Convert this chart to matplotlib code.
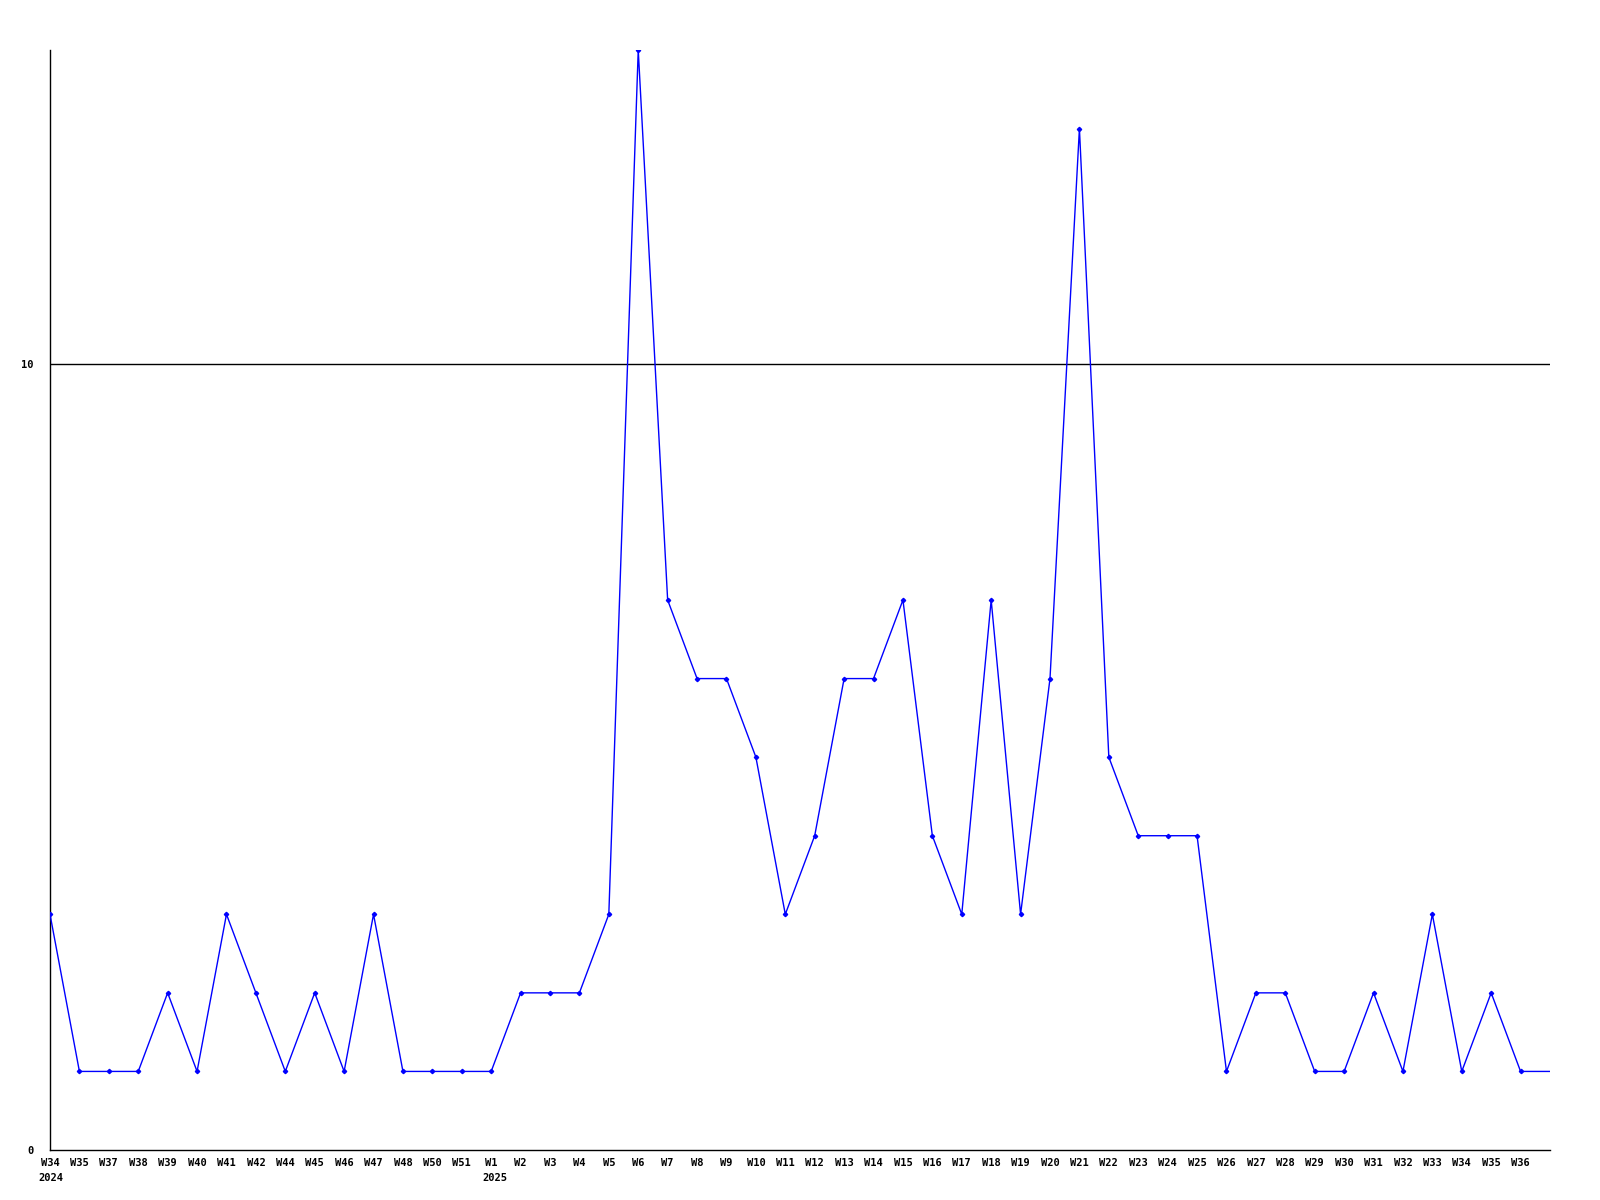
import matplotlib
matplotlib.use("Agg")
import matplotlib.pyplot as plt
from matplotlib.transforms import blended_transform_factory

weeks = ["W34", "W35", "W37", "W38", "W39", "W40", "W41", "W42", "W44", "W45",
         "W46", "W47", "W48", "W50", "W51", "W1", "W2", "W3", "W4", "W5",
         "W6", "W7", "W8", "W9", "W10", "W11", "W12", "W13", "W14", "W15",
         "W16", "W17", "W18", "W19", "W20", "W21", "W22", "W23", "W24", "W25",
         "W26", "W27", "W28", "W29", "W30", "W31", "W32", "W33", "W34", "W35",
         "W36"]
years = {0: "2024", 15: "2025"}
values = [3, 1, 1, 1, 2, 1, 3, 2, 1, 2,
          1, 3, 1, 1, 1, 1, 2, 2, 2, 3,
          14, 7, 6, 6, 5, 3, 4, 6, 6, 7,
          4, 3, 7, 3, 6, 13, 5, 4, 4, 4,
          1, 2, 2, 1, 1, 2, 1, 3, 1, 2,
          1]
yticks = [0, 10]

fig = plt.figure(figsize=(16, 12), dpi=100)
ax = fig.add_axes([50/1600, 1 - 1150/1200, 1500/1600, 1100/1200])

n = len(values)
xs = list(range(n))
ax.plot(xs + [n], values + [values[-1]], color="#0000ff", linewidth=1.0, zorder=3)
ax.plot(xs, values, linestyle="none", marker="D", markersize=2.2,
        color="#0000ff", zorder=4)

ax.set_xlim(0, n)
ax.set_ylim(0, 14)
for s in ["top", "right"]:
    ax.spines[s].set_visible(False)
for s in ["left", "bottom"]:
    ax.spines[s].set_linewidth(1.0)
    ax.spines[s].set_color("black")

for yt in yticks:
    if yt != 0:
        ax.axhline(yt, color="black", linewidth=1.0, zorder=1)

fontkw = dict(family="DejaVu Sans Mono", fontweight="bold", fontsize=7.5)
ax.set_yticks(yticks)
ax.set_yticklabels([str(v) for v in yticks], **fontkw)
ax.tick_params(axis="y", length=0, pad=12)
ax.set_xticks(xs)
ax.set_xticklabels(weeks, **fontkw)
ax.tick_params(axis="x", length=0, pad=5.5)

trans = blended_transform_factory(ax.transData, ax.transAxes)
for idx, yr in years.items():
    ax.text(idx - 0.4 + (0.1 if len(weeks[idx]) == 2 else 0), -0.021, yr,
            transform=trans, ha="left", va="top", **fontkw)

fig.savefig("out.png", dpi=100)
